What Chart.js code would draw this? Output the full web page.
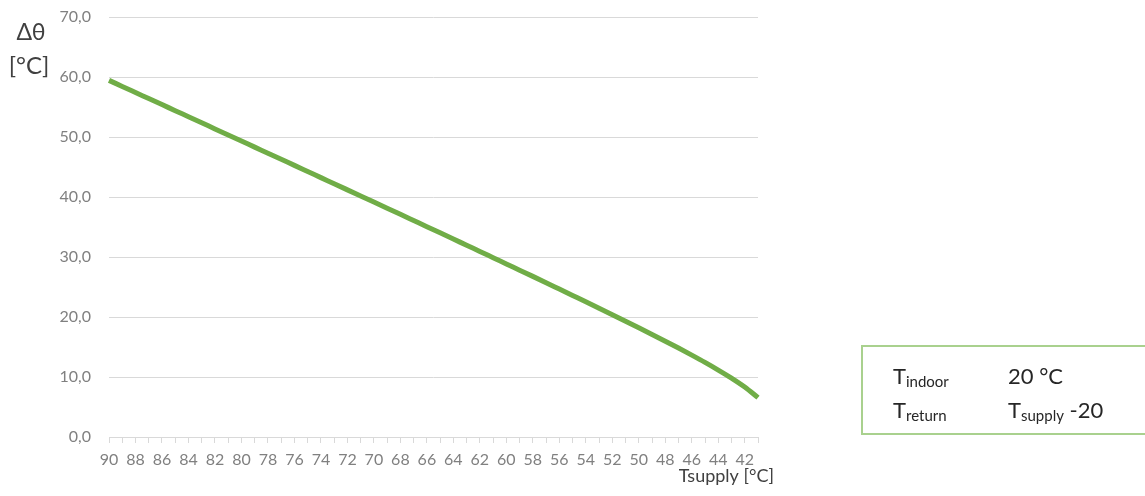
<!DOCTYPE html>
<html>
<head>
<meta charset="utf-8">
<script src="https://cdn.jsdelivr.net/npm/chart.js@4/dist/chart.umd.min.js"></script>
<style>
  html, body { margin: 0; padding: 0; background: #ffffff; }
  #wrap { width: 1145px; height: 496px; position: relative; }
</style>
</head>
<body>
<div id="wrap"><canvas id="chart" width="1145" height="496"></canvas></div>
<script>
// Supply temperature (°C), descending along the x axis
const supplyTemps = [90, 89, 88, 87, 86, 85, 84, 83, 82, 81, 80, 79, 78, 77, 76, 75, 74, 73, 72, 71,
                     70, 69, 68, 67, 66, 65, 64, 63, 62, 61, 60, 59, 58, 57, 56, 55, 54, 53, 52, 51,
                     50, 49, 48, 47, 46, 45, 44, 43, 42, 41];
// Mean temperature difference Δθ (°C) for each supply temperature
const deltaTheta = [59.44, 58.43, 57.42, 56.41, 55.40, 54.39, 53.38, 52.37, 51.35, 50.34,
                    49.33, 48.31, 47.30, 46.28, 45.27, 44.25, 43.23, 42.21, 41.19, 40.17,
                    39.15, 38.13, 37.11, 36.08, 35.05, 34.03, 33.00, 31.96, 30.93, 29.89,
                    28.85, 27.81, 26.77, 25.72, 24.66, 23.60, 22.54, 21.47, 20.39, 19.30,
                    18.20, 17.09, 15.96, 14.82, 13.64, 12.43, 11.16, 9.82, 8.34, 6.57];
// Value axis range
const yMin = 0;
const yMax = 70;
const yStep = 10;
// Conditions box: [symbol, subscript, value symbol, value subscript, value text]
const conditionRows = [
  ["T", "indoor", "", "", "20 °C"],
  ["T", "return", "T", "supply", " -20"]
];

const FONT = "Lato, 'Open Sans', sans-serif";
const GRID = "#d9d9d9";
const LABEL = "#808080";
const DARK = "#404040";

function subText(ctx, x, y, main, sub, mainSize, subSize) {
  ctx.font = mainSize + "px " + FONT;
  ctx.fillText(main, x, y);
  let w = ctx.measureText(main).width;
  if (sub) {
    ctx.font = subSize + "px " + FONT;
    ctx.fillText(sub, x + w, y + 3);
    w += ctx.measureText(sub).width;
  }
  return w;
}

const annotations = {
  id: "annotations",
  afterDraw(chart) {
    const ctx = chart.ctx;
    ctx.save();
    ctx.fillStyle = DARK;
    ctx.textBaseline = "alphabetic";
    // value axis title
    ctx.textAlign = "center";
    ctx.font = "23px " + FONT;
    ctx.fillText("Δθ", 31, 40);
    ctx.font = "24px " + FONT;
    ctx.fillText("[°C]", 29, 74);
    // category axis title
    ctx.textAlign = "right";
    ctx.font = "18px " + FONT;
    ctx.fillText("Tsupply [°C]", 774, 482);
    // conditions box
    ctx.strokeStyle = "#a9d18e";
    ctx.lineWidth = 2;
    ctx.strokeRect(862, 346, 300, 88);
    ctx.textAlign = "left";
    ctx.fillStyle = "#262626";
    const baselines = [384, 418];
    conditionRows.forEach((row, i) => {
      const y = baselines[i];
      subText(ctx, 893, y, row[0], row[1], 22, 15);
      let x = 1008;
      if (row[2]) x += subText(ctx, x, y, row[2], row[3], 22, 15);
      ctx.font = "22px " + FONT;
      ctx.fillText(row[4], x, y);
    });
    ctx.restore();
  }
};

new Chart(document.getElementById("chart"), {
  type: "line",
  data: {
    labels: supplyTemps.map(String),
    datasets: [{
      data: deltaTheta,
      borderColor: "#70ad47",
      borderWidth: 5,
      pointRadius: 0,
      cubicInterpolationMode: "monotone",
      fill: false
    }]
  },
  options: {
    responsive: false,
    animation: false,
    events: [],
    layout: { padding: { left: 0, top: 17, right: 387, bottom: 0 } },
    plugins: { legend: { display: false }, tooltip: { enabled: false } },
    scales: {
      x: {
        type: "category",
        offset: false,
        afterFit(scale) { scale.height = 59; scale.paddingLeft = 0; scale.paddingRight = 0; },
        grid: { display: true, drawOnChartArea: false, drawTicks: true, tickLength: 6, color: GRID, lineWidth: 1 },
        border: { display: true, color: GRID, width: 1 },
        ticks: {
          autoSkip: false,
          maxRotation: 0,
          minRotation: 0,
          padding: 7,
          color: LABEL,
          font: { family: FONT, size: 16 },
          callback(value, index) { return index % 2 === 0 ? this.getLabelForValue(value) : ""; }
        }
      },
      y: {
        min: yMin,
        max: yMax,
        afterFit(scale) { scale.width = 109; scale.paddingTop = 0; scale.paddingBottom = 0; },
        grid: { color: GRID, lineWidth: 1, drawTicks: false },
        border: { display: false },
        ticks: {
          stepSize: yStep,
          padding: 18,
          color: LABEL,
          font: { family: FONT, size: 16 },
          callback(v) { return v.toFixed(1).replace(".", ","); }
        }
      }
    }
  },
  plugins: [annotations]
});
</script>
</body>
</html>
